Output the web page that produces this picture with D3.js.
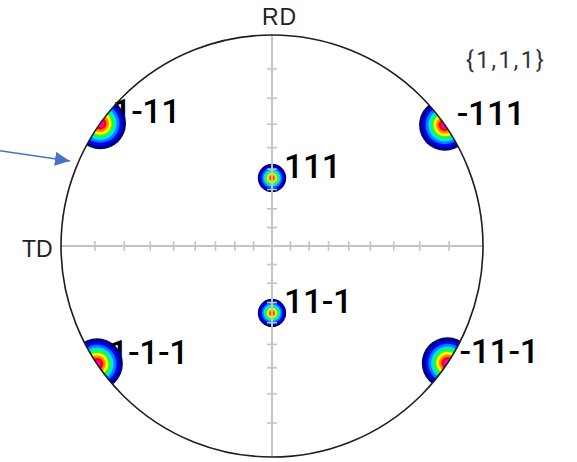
<!DOCTYPE html>
<html>
<head>
<meta charset="utf-8">
<script src="https://cdn.jsdelivr.net/npm/d3@7"></script>
<style>
html,body{margin:0;padding:0;background:#fff;}
svg{display:block;}
svg text{font-family: "Liberation Sans", Arial, sans-serif;}
svg text.lab, svg text.title{font-family: Roboto, "Liberation Sans", Arial, sans-serif;}
</style>
</head>
<body>
<svg id="chart" width="577" height="462"></svg>
<script>
// ---------- data ----------
const poleLabels  = ["111", "11-1", "1-11", "-111", "1-1-1", "-11-1"];
const polePolar   = [35.7, 35.2, 90, 90, 90, 90];          // angle from centre (deg)
const poleAzimuth = [90, 270, 144.5, 35.0, 214.0, 326.3];  // deg, ccw from +x
const polePeak    = [0.88, 0.88, 1, 1, 1, 1];              // relative peak intensity
const spotSpread  = 7.0;                                   // angular spread (deg)
const contourLevels = [0, 0.13, 0.25, 0.36, 0.46, 0.56, 0.66, 0.76, 0.86];
const tickAngles  = [10, 20, 30, 40, 50, 60, 70, 80];
const axisNames   = ["RD", "TD"];
const figureTitle = "{1,1,1}";
const arrowTail   = {r: 1.366, az: 160.7};   // in primitive-circle radii
const arrowTip    = {r: 1.039, az: 157.2};

// ---------- styles ----------
const contourColors = ["#00007c", "#0000ff", "#0080ff", "#00e0ff", "#20ff20",
                       "#ffff00", "#ff8800", "#ff0000", "#ff00c8"];

// ---------- geometry ----------
const W = 577, H = 462;
const cx = 272, cy = 246, R = 211;
const svg = d3.select("#chart");
svg.append("rect").attr("width", W).attr("height", H).attr("fill", "#fff");

// stereographic radial scale: input tan(theta/2)
const rScale = d3.scaleLinear().domain([0, 1]).range([0, R]);
const toRad = d => d * Math.PI / 180;
function project(theta, az) {
  const r = rScale(Math.tan(toRad(theta) / 2));
  return [cx + r * Math.cos(toRad(az)), cy - r * Math.sin(toRad(az))];
}
function projectUnit(p) {
  const r = rScale(p.r);
  return [cx + r * Math.cos(toRad(p.az)), cy - r * Math.sin(toRad(p.az))];
}

const poles = poleLabels.map((label, i) => {
  const [x, y] = project(polePolar[i], poleAzimuth[i]);
  const t = Math.tan(toRad(polePolar[i]) / 2);
  const spotR = rScale(toRad(spotSpread) / 2) * (1 + t * t);
  return {label, x, y, spotR, peak: polePeak[i]};
});

const defs = svg.append("defs");
defs.append("clipPath").attr("id", "prim")
  .append("circle").attr("cx", cx).attr("cy", cy).attr("r", R);

// ---------- labels (under the spots) ----------
svg.append("g").selectAll("text").data(poles).join("text")
  .attr("class", "lab")
  .attr("x", d => d.x + 12)
  .attr("y", d => d.y)
  .attr("font-size", 34)
  .attr("font-weight", 500)
  .attr("letter-spacing", -0.4)
  .attr("fill", "#000")
  .text(d => d.label);

// ---------- intensity spots ----------
const spots = svg.append("g").attr("clip-path", "url(#prim)");
poles.forEach(p => {
  const rings = contourLevels
    .map((lv, k) => ({lv, k}))
    .filter(o => o.lv < p.peak)
    .map(o => ({r: p.spotR * (1 - o.lv / p.peak), c: contourColors[o.k]}));
  spots.append("g").selectAll("circle").data(rings).join("circle")
    .attr("cx", p.x).attr("cy", p.y)
    .attr("r", d => d.r)
    .attr("fill", d => d.c);
});

// ---------- crosshair with stereographic ticks ----------
const grid = svg.append("g").attr("stroke", "#c4c4c4").attr("fill", "none");
grid.append("line").attr("x1", cx - R).attr("x2", cx + R).attr("y1", cy).attr("y2", cy).attr("stroke-width", 2);
grid.append("line").attr("x1", cx).attr("x2", cx).attr("y1", cy - R).attr("y2", cy + R).attr("stroke-width", 2);
const tickLen = 5;
const tickData = [];
tickAngles.forEach(a => {
  const r = rScale(Math.tan(toRad(a) / 2));
  tickData.push({x1: cx - r, x2: cx - r, y1: cy - tickLen, y2: cy + tickLen});
  tickData.push({x1: cx + r, x2: cx + r, y1: cy - tickLen, y2: cy + tickLen});
  tickData.push({x1: cx - tickLen, x2: cx + tickLen, y1: cy - r, y2: cy - r});
  tickData.push({x1: cx - tickLen, x2: cx + tickLen, y1: cy + r, y2: cy + r});
});
grid.selectAll("line.tick").data(tickData).join("line").attr("class", "tick")
  .attr("x1", d => d.x1).attr("x2", d => d.x2)
  .attr("y1", d => d.y1).attr("y2", d => d.y2)
  .attr("stroke-width", 1.6);

// ---------- primitive circle ----------
svg.append("circle").attr("cx", cx).attr("cy", cy).attr("r", R)
  .attr("fill", "none").attr("stroke", "#1e1e1e").attr("stroke-width", 1.6);

// ---------- axis names & title ----------
svg.append("text").attr("x", cx - 10).attr("y", cy - R - 10)
  .attr("font-size", 23).attr("fill", "#222")
  .attr("letter-spacing", 1).text(axisNames[0]);
svg.append("text").attr("x", cx - R - 39).attr("y", cy + 11)
  .attr("font-size", 23).attr("fill", "#222")
  .text(axisNames[1]);
svg.append("text").attr("class", "title").attr("x", 466).attr("y", 68)
  .attr("font-size", 23).attr("fill", "#333")
  .attr("letter-spacing", 2.4).text(figureTitle);

// ---------- annotation arrow ----------
defs.append("marker").attr("id", "ah")
  .attr("markerUnits", "userSpaceOnUse")
  .attr("markerWidth", 16).attr("markerHeight", 14)
  .attr("refX", 15).attr("refY", 7).attr("orient", "auto")
  .append("path").attr("d", "M0,0 L15,7 L0,14 Z").attr("fill", "#4472c4");
const [ax1, ay1] = projectUnit(arrowTail);
const [ax2, ay2] = projectUnit(arrowTip);
svg.append("line").attr("x1", ax1).attr("y1", ay1).attr("x2", ax2).attr("y2", ay2)
  .attr("stroke", "#4472c4").attr("stroke-width", 1.6)
  .attr("marker-end", "url(#ah)");
</script>
</body>
</html>
